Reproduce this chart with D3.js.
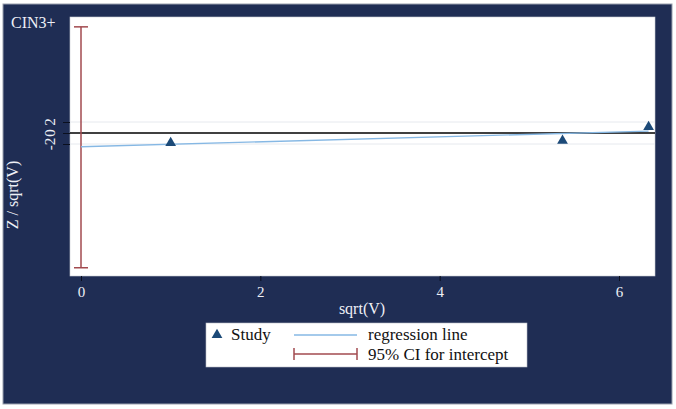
<!DOCTYPE html>
<html>
<head>
<meta charset="utf-8">
<script src="https://cdn.jsdelivr.net/npm/d3@7"></script>
<style>
  html, body { margin: 0; padding: 0; background: #ffffff; }
  svg text { font-family: "Liberation Serif", "DejaVu Serif", serif; }
</style>
</head>
<body>
<div id="chart"></div>
<script>
// data
const studyX = [1.0, 5.37, 6.33];
const studyY = [-1.8, -1.4, 1.1];
const regX = [0, 6.33];
const regY = [-2.5, 0.35];
const ciX = 0;
const ciBounds = [-24.5, 19.3];
const xTicks = [0, 2, 4, 6];
const yTicks = [-2, 0, 2];
const titleText = "CIN3+";

const W = 676, H = 409;
const navy = "#1f2d54";
const textCol = "#eef0f6";
const ciCol = "#a24a4f";
const regCol = "#86b8e4";
const markCol = "#1c4a78";
const fontFam = "'Liberation Serif', 'DejaVu Serif', serif";

const svg = d3.select("#chart")
  .append("svg")
  .attr("width", W)
  .attr("height", H)
  .attr("font-family", fontFam);

// outer background
svg.append("rect")
  .attr("x", 3).attr("y", 4)
  .attr("width", 669).attr("height", 400)
  .attr("fill", navy)
  .attr("stroke", "#9aa0ad")
  .attr("stroke-width", 1);

const plot = { left: 70, right: 655, top: 17, bottom: 276 };

const x = d3.scaleLinear().domain([0, 6]).range([81, 619]);
const y = d3.scaleLinear().domain([-2, 2]).range([144, 122]);

// plot area
svg.append("rect")
  .attr("x", plot.left).attr("y", plot.top)
  .attr("width", plot.right - plot.left)
  .attr("height", plot.bottom - plot.top)
  .attr("fill", "#ffffff")
  .attr("stroke", "#c9ccd4")
  .attr("stroke-width", 0.6);

// gridlines
svg.append("g")
  .selectAll("line")
  .data(yTicks.filter(d => d !== 0))
  .join("line")
  .attr("x1", plot.left).attr("x2", plot.right)
  .attr("y1", d => y(d)).attr("y2", d => y(d))
  .attr("stroke", "#e6e9ee")
  .attr("stroke-width", 1);

// zero line
svg.append("line")
  .attr("x1", plot.left).attr("x2", plot.right)
  .attr("y1", y(0)).attr("y2", y(0))
  .attr("stroke", "#000")
  .attr("stroke-width", 1.3);

// CI for intercept
const ciG = svg.append("g").attr("stroke", ciCol).attr("stroke-width", 1.5);
ciG.append("line")
  .attr("x1", x(ciX)).attr("x2", x(ciX))
  .attr("y1", y(ciBounds[0])).attr("y2", y(ciBounds[1]));
ciBounds.forEach(b => {
  ciG.append("line")
    .attr("x1", x(ciX) - 7).attr("x2", x(ciX) + 7)
    .attr("y1", y(b)).attr("y2", y(b));
});

// regression line
svg.append("path")
  .datum(regX.map((d, i) => [d, regY[i]]))
  .attr("fill", "none")
  .attr("stroke", regCol)
  .attr("stroke-width", 1.4)
  .attr("d", d3.line().x(d => x(d[0])).y(d => y(d[1])));

// study markers
const tri = d3.symbol().type(d3.symbolTriangle).size(50);
svg.append("g")
  .selectAll("path")
  .data(studyX.map((d, i) => [d, studyY[i]]))
  .join("path")
  .attr("d", tri)
  .attr("transform", d => `translate(${x(d[0])},${y(d[1])})`)
  .attr("fill", markCol);

// x axis
const xAxis = svg.append("g")
  .attr("transform", `translate(0,${plot.bottom})`)
  .call(d3.axisBottom(x).tickValues(xTicks).tickSize(5).tickPadding(5).tickFormat(d3.format("d")));
xAxis.attr("font-family", fontFam).attr("font-size", 15);
xAxis.select(".domain").remove();
xAxis.selectAll("line").attr("stroke", "#0a0f1e");
xAxis.selectAll("text").attr("fill", textCol);

svg.append("text")
  .attr("x", 362).attr("y", 314)
  .attr("text-anchor", "middle")
  .attr("fill", textCol)
  .attr("font-size", 16)
  .text("sqrt(V)");

// y axis
const yAxis = svg.append("g")
  .attr("transform", `translate(${plot.left},0)`)
  .call(d3.axisLeft(y).tickValues(yTicks).tickSize(7).tickFormat(() => ""));
yAxis.select(".domain").remove();
yAxis.selectAll("line").attr("stroke", "#0a0f1e");

svg.append("g")
  .selectAll("text")
  .data(yTicks)
  .join("text")
  .attr("transform", d => `translate(55,${y(d)}) rotate(-90)`)
  .attr("text-anchor", "middle")
  .attr("fill", textCol)
  .attr("font-size", 15)
  .text(d => d);

svg.append("text")
  .attr("transform", "translate(18,195) rotate(-90)")
  .attr("text-anchor", "middle")
  .attr("fill", textCol)
  .attr("font-size", 16)
  .text("Z / sqrt(V)");

// title
svg.append("text")
  .attr("x", 11).attr("y", 28)
  .attr("fill", textCol)
  .attr("font-size", 16)
  .text(titleText);

// legend
const lg = svg.append("g").attr("font-size", 17);
lg.append("rect")
  .attr("x", 206).attr("y", 323)
  .attr("width", 321).attr("height", 44)
  .attr("fill", "#ffffff")
  .attr("stroke", "#b8bcc6")
  .attr("stroke-width", 0.6);
lg.append("path")
  .attr("d", tri)
  .attr("transform", "translate(217,335)")
  .attr("fill", markCol);
lg.append("text").attr("x", 231).attr("y", 340)
  .attr("fill", "#111").text("Study");
lg.append("line")
  .attr("x1", 294).attr("x2", 357).attr("y1", 335).attr("y2", 335)
  .attr("stroke", regCol).attr("stroke-width", 1.4);
lg.append("text").attr("x", 368).attr("y", 340)
  .attr("fill", "#111").text("regression line");
const lci = lg.append("g").attr("stroke", ciCol).attr("stroke-width", 1.5);
lci.append("line").attr("x1", 294).attr("x2", 357).attr("y1", 354).attr("y2", 354);
lci.append("line").attr("x1", 294).attr("x2", 294).attr("y1", 348).attr("y2", 360);
lci.append("line").attr("x1", 357).attr("x2", 357).attr("y1", 348).attr("y2", 360);
lg.append("text").attr("x", 368).attr("y", 360)
  .attr("fill", "#111").text("95% CI for intercept");
</script>
</body>
</html>
